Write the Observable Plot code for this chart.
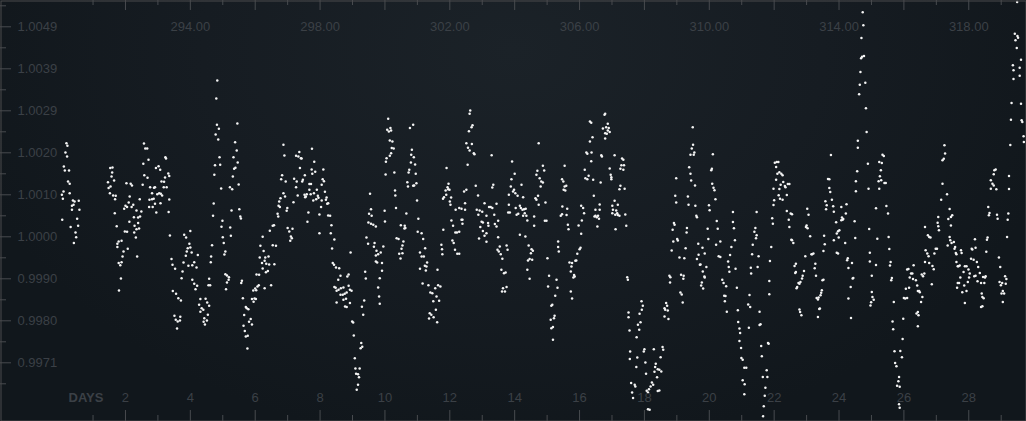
<!DOCTYPE html>
<html>
<head>
<meta charset="utf-8">
<script src="https://cdn.jsdelivr.net/npm/d3@7"></script>
<script src="https://cdn.jsdelivr.net/npm/@observablehq/plot@0.6"></script>
<style>
html, body { margin: 0; padding: 0; width: 1026px; height: 421px; overflow: hidden; background: #13191e; }
#chart {
  width: 1026px; height: 421px;
  background: radial-gradient(ellipse 55% 95% at 50% 12%, #1b2228 0%, #161c22 55%, #11171c 100%);
}
#chart svg { display: block; }
</style>
</head>
<body>
<div id="chart"></div>
<script>
// Observations: [day, relative flux deviation in ppm]
const obsDays0to5 = [
[0.18,2178],[0.21,2116],[0.15,1960],[0.20,1868],[0.10,1635],[0.13,1542],[0.26,1542],[0.23,1287],[0.28,1232],[0.09,1054],[0.04,977],[0.07,884],[0.28,1015],[0.38,845],[0.43,822],[0.56,837],[0.35,721],[0.40,744],[0.58,628],[0.35,628],[0.51,419],[0.05,395],[0.31,225],[0.54,256],[0.46,101],[0.48,-8],[0.41,-147],
[1.53,1597],[1.60,1612],[1.59,1496],[1.57,1403],[1.65,1310],[1.46,1271],[1.54,1170],[1.48,1132],[1.52,1015],[1.62,961],[1.70,953],[1.68,876],[1.67,550],[1.73,248],[1.79,-109],[1.75,-163],[1.75,-240],[1.88,-93],[1.94,-341],[1.91,-457],[1.79,-612],[1.84,-659],[1.88,-589],[1.86,-969],[1.80,-1248],
[2.03,1248],[2.16,1232],[2.20,1194],[2.13,938],[2.24,744],[2.10,798],[2.00,721],[1.96,651],[2.19,690],[2.05,690],[2.34,612],[2.49,589],[2.39,450],[2.26,457],[2.45,473],[2.12,349],[2.39,318],[2.28,256],[2.34,178],[2.27,101],[2.42,194],[1.98,124],[2.05,116],[2.32,-16],[2.07,-279],[2.36,-457],
[2.57,2170],[2.61,2054],[2.67,2054],[2.55,1697],[2.71,1790],[2.58,1434],[2.68,1372],[2.53,1209],[2.44,876],[2.76,1155],[2.88,1139],[2.82,1015],[2.91,1155],[2.98,992],[3.04,1015],[3.09,1000],[2.94,1597],[3.02,1643],[3.07,1558],[3.23,1852],[3.25,1821],[3.11,1287],[3.19,1279],[3.32,1473],[3.35,1411],[3.27,1155],[3.22,1380],[3.18,1155],[2.82,876],[2.87,884],[2.74,860],[2.91,767],[2.73,690],[2.84,690],[2.95,566],[3.08,783],[3.35,868],[3.13,961],[3.33,574],[3.37,31],
[3.42,-519],[3.45,-651],[3.53,-744],[3.46,-1263],[3.56,-1325],[3.63,-1426],[3.71,-1480],[3.51,-1837],[3.55,-1930],[3.61,-1968],[3.69,-1860],[3.68,-1945],[3.59,-2131],
[3.81,47],[3.87,-16],[4.00,132],[3.97,-163],[3.92,-264],[3.89,-341],[4.00,-248],[3.86,-442],[4.04,-364],[3.79,-597],[3.94,-674],[4.06,-659],[4.12,-589],[4.19,-713],[4.23,-426],[3.73,-961],[3.76,-806],[4.06,-1000],[4.12,-1093],[4.21,-1139],[4.16,-1217],[4.31,-1449],[4.47,-1442],[4.52,-1527],[4.27,-1581],[4.35,-1659],[4.40,-1697],[4.58,-1604],[4.31,-1744],[4.54,-1814],[4.43,-1891],[4.51,-1945],[4.41,-1976],[4.45,-2038],[4.58,-977],[4.56,-1124],[4.61,-1124],[4.63,-589],[4.64,-457],[4.67,-194],
[4.83,3634],[4.80,3215],
[4.82,2604],[4.88,2511],[4.78,2379],[4.86,2263],[4.90,1852],[4.76,1666],[4.92,1674],[4.74,1442],[4.95,1124],[4.72,775],[4.70,488],[4.99,372],[4.96,233],[5.00,-8]
];
const obsDays5to10 = [
[5.45,2635],[5.38,2201],[5.43,2007],[5.33,1852],[5.46,1728],[5.39,1604],[5.35,1581],[5.31,1403],[5.49,1217],[5.22,1155],[5.29,1108],[5.23,217],[5.25,23],[5.03,-147],[5.08,-341],[5.05,-411],[5.27,612],[5.51,643],[5.54,473],[5.56,426],[5.08,-868],[5.13,-899],[5.19,-938],[5.18,-1000],[5.13,-1062],[5.10,-1217],
[5.59,-1023],[5.57,-1077],[5.62,-1426],[5.74,-1659],[5.79,-1682],[5.71,-1635],[5.86,-1914],[5.81,-1976],[5.90,-2038],[5.66,-1821],[5.64,-2069],[5.68,-2193],[5.77,-2302],[5.71,-2317],[5.76,-2596],[5.94,-1248],[6.00,-1201],[6.07,-1155],[6.11,-1124],[6.03,-1240],[5.90,-1449],[5.98,-1434],[5.95,-1511],[6.02,-1449],[6.04,-876],[6.12,-884],[6.23,0],[6.16,-209],[6.26,-333],[6.14,-481],[6.31,-481],[6.41,-457],[6.21,-612],[6.29,-558],[6.34,-628],[6.43,-643],[6.23,-736],[6.39,-798],[6.33,-822],[6.29,-1194],[6.49,-1124],[6.45,140],[6.54,256],[6.58,271],[6.54,-194],[6.59,-636],[6.64,-209],
[6.87,2139],[6.90,1891],[6.83,1434],[6.80,1341],[6.94,1287],[6.87,1015],[6.78,899],[6.92,938],[6.74,822],[6.72,721],[6.76,690],[6.69,535],[6.71,473],[6.99,667],[6.97,605],[7.00,202],[7.15,186],[7.05,124],[7.10,8],[7.13,-31],[7.08,-93],
[7.26,1883],[7.33,1868],[7.36,1969],[7.41,1829],[7.38,1597],[7.43,1821],[7.20,1349],[7.28,1287],[7.26,1155],[7.45,1287],[7.53,1434],[7.47,1325],[7.67,1225],[7.72,1225],[7.76,1465],[7.74,1566],[7.82,1744],[7.85,1511],[7.75,2046],[7.18,806],[7.31,961],[7.52,977],[7.56,938],[7.59,992],[7.54,922],[7.67,1093],[7.71,992],[7.81,1015],[7.90,1093],[7.93,953],[7.79,845],[7.88,876],[7.95,907],[8.05,1209],[8.08,1341],[8.12,1294],[8.10,1566],[8.15,1046],[8.20,915],[8.18,860],[8.25,783],[8.22,767],[8.05,845],[8.03,690],[7.98,519],[7.64,566],[7.61,349],[7.98,85],[8.25,496],[8.31,488],
[8.35,271],[8.33,85],[8.44,-62],[8.37,-271],[8.39,-612],[8.43,-651],[8.49,-713],[8.59,-729],[8.63,-907],[8.56,-1000],[8.88,-876],[8.84,-922],[8.44,-1170],[8.48,-1186],[8.57,-1232],[8.51,-1256],[8.64,-1194],[8.72,-1178],[8.88,-1139],[8.97,-1256],[8.92,-1232],[8.63,-1349],[8.70,-1349],[8.76,-1325],[8.82,-1294],[8.80,-1442],[8.72,-1465],[8.77,-1620],[8.82,-1635],[8.51,-1527],[8.92,-1542],[8.94,-364],
[8.99,-1969],[9.02,-1992],[9.04,-2294],[9.27,-2472],[9.30,-2558],[9.25,-2589],[9.07,-2821],[9.09,-3061],[9.22,-3061],[9.11,-3185],[9.17,-3193],[9.20,-3263],[9.17,-3441],[9.13,-3557],[9.36,-1480],[9.29,-1628],[9.33,-1814],
[9.39,-814],[9.41,-969],[9.43,-16],[9.48,-163],[9.54,1000],[9.57,643],[9.51,535],[9.59,488],[9.49,333],[9.57,302],[9.64,279],[9.72,240],[9.68,-147],[9.66,-233],[9.74,-326],[9.72,-434],[9.79,-403],[9.87,-364],[9.95,-225],[9.91,-612],[9.76,-597],[9.72,-574],[9.91,-791],[9.84,-961],[9.79,-1178],[9.82,-1387],[9.84,-1558],[9.99,605],[10.00,357]
];
const obsDays10to15 = [
[10.10,2744],[10.07,2488],[10.12,2449],[10.17,2527],[10.19,2472],[10.15,2240],[10.23,2217],[10.21,2062],[10.27,2054],[10.19,1945],[10.15,1883],[10.05,1829],[10.03,1744],[10.29,1496],[10.02,1449],[10.31,1077],[10.32,961],[10.34,667],
[10.36,-31],[10.42,-54],[10.49,271],[10.61,256],[10.63,202],[10.60,194],[10.57,-109],[10.54,-202],[10.51,-279],[10.44,-395],[10.54,-380],[10.48,-504],[10.66,543],
[10.87,2604],[10.77,2527],[10.83,2023],[10.81,1907],[10.89,1852],[10.80,1728],[10.93,1682],[10.75,1558],[10.73,1496],[10.95,1465],[10.69,1271],[10.97,1248],[10.71,1170],[10.87,1186],[10.90,1194],[10.99,845],[11.03,419],
[11.01,116],[11.13,85],[11.18,-54],[11.24,-264],[11.08,-364],[11.13,-457],[11.20,-457],[11.30,-597],[11.23,-674],[11.28,-690],[11.08,-744],[11.26,-783],[11.16,-1085],[11.34,-1124],[11.64,-1124],[11.71,-1155],[11.40,-1294],[11.55,-1194],[11.46,-1310],[11.59,-1387],[11.49,-1496],[11.67,-1488],[11.57,-1697],[11.38,-1775],[11.43,-1814],[11.50,-1868],[11.36,-1899],[11.61,-1984],
[11.62,-767],[11.74,-186],[11.76,-287],[11.77,-403],[11.80,163],
[11.90,1597],[11.96,1232],[11.93,1155],[11.87,1077],[11.99,1093],[11.89,977],[11.82,922],[11.79,884],[12.04,915],[12.00,822],[12.02,744],[11.95,1108],
[12.05,380],[12.10,256],[12.08,-85],[12.12,-147],[12.17,101],[12.22,101],[12.29,116],[12.16,-302],[12.23,-395],[12.29,-395],[12.36,395],[12.39,395],[12.39,302],[12.18,628],[12.29,667],[12.36,651],[12.47,628],[12.47,783],[12.44,1054],[12.51,1093],
[12.63,2937],[12.61,2860],[12.70,2596],[12.67,2550],[12.59,2457],[12.51,2178],[12.68,2155],[12.56,2069],[12.61,2007],[12.74,1945],[12.76,1922],[12.55,1674],
[12.80,1186],[12.87,961],[12.83,628],[12.92,612],[13.00,581],[12.88,512],[13.07,783],[13.13,488],[13.21,690],[12.98,349],[13.02,333],[13.18,318],[12.94,225],[13.02,132],[13.13,85],[13.07,23],[12.90,-39],[13.13,-116],[13.19,256],
[13.29,1899],[13.34,1209],[13.31,1147],[13.44,767],[13.26,690],[13.31,667],[13.37,512],[13.39,295],[13.44,240],[13.49,372],[13.49,-8],[13.54,-225],[13.47,-302],[13.51,-341],[13.57,-403],[13.75,-202],[13.78,-302],[13.62,-512],[13.59,-767],[13.72,-829],[13.67,-845],[13.64,-1194],[13.70,-1271],[13.75,-1170],[13.61,-1271],
[13.92,1752],[14.00,1465],[13.90,1341],[13.88,1170],[13.98,1093],[13.95,1054],[14.02,1015],[13.82,977],[14.09,953],[14.26,922],[14.21,1209],[13.82,744],[13.80,566],[13.85,566],[14.03,667],[14.11,535],[14.06,512],[14.16,721],[14.19,667],[14.24,628],[14.29,643],[14.34,651],[14.31,550],[14.26,488],[14.36,488],[14.16,47],[14.33,8],[14.39,380],[14.43,-202],[14.52,-287],[14.56,-326],[14.50,-380],[14.46,-519],[14.54,-535],[14.41,-550],[14.39,-767],[14.46,-977],
[14.74,2178],[14.70,1535],[14.67,1442],[14.77,1364],[14.87,1651],[14.91,1542],[14.82,1287],[14.87,1263],[14.80,1170],[14.72,953],[14.67,860],[14.64,899],[14.74,744],[14.95,798],[14.60,473],[14.60,256],[14.93,372],[14.98,372]
];
const obsDays15to20 = [
[15.01,-496],[15.06,-907],[15.03,-1155],[15.29,-1000],[15.32,-1186],[15.25,-1372],[15.13,-1604],[15.16,-1581],[15.23,-1837],[15.21,-1891],[15.11,-1930],[15.18,-2100],[15.13,-2124],[15.18,-2395],
[15.54,1651],[15.46,1341],[15.50,1287],[15.54,1170],[15.59,1186],[15.51,1093],[15.56,1077],[15.47,705],[15.62,651],[15.46,527],[15.42,488],[15.60,504],[15.64,279],[15.66,178],[15.34,-109],[15.34,-240],[15.36,-341],[15.69,-597],[15.77,-612],[15.87,-558],[15.75,-690],[15.73,-806],[15.83,-891],[15.85,-922],[15.81,-946],[15.73,-1271],[15.77,-1434],
[16.05,721],[16.11,667],[16.14,550],[16.07,380],[15.97,264],[16.05,70],[16.03,-256],[16.00,-287],[15.93,-395],[15.90,-550],
[16.32,2682],[16.36,2650],[16.40,2317],[16.32,2217],[16.21,1961],[16.24,1930],[16.37,1961],[16.36,1759],[16.16,1558],[16.18,1364],[16.28,1418],[16.24,1341],[16.42,1325],[16.67,1899],[16.69,1868],[16.65,1263],[16.44,953],[16.49,628],[16.62,752],[16.62,628],[16.49,488],[16.53,457],[16.57,488],[16.60,419],[16.46,473],[16.55,240],
[16.79,2860],[16.77,2837],[16.87,2627],[16.82,2550],[16.90,2527],[16.72,2519],[16.93,2434],[16.79,2410],[16.84,2395],[16.87,2472],[16.79,2286],
[17.08,1899],[16.93,1589],[16.96,1442],[16.98,1387],[16.98,1341],[17.31,1821],[17.35,1790],[17.29,1666],[17.37,1666],[17.26,1581],[17.35,1558],[17.26,1186],[17.23,1108],[17.39,1116],[17.08,837],[17.01,721],[17.18,744],[17.03,628],[17.01,550],[17.13,612],[17.16,550],[17.23,488],[17.10,512],[17.18,504],[17.41,519],[17.11,178],[17.44,256],
[17.47,-938],[17.49,-1000],
[17.91,-1496],[17.95,-1604],[17.92,-1697],[17.85,-1790],[17.51,-1759],[17.51,-1868],[17.88,-1984],[17.80,-2046],[17.84,-2162],[17.54,-2178],[17.76,-2333],[17.56,-2666],[18.00,-2612],[17.98,-2666],[18.29,-2612],[18.56,-2565],[18.58,-2627],[18.50,-2798],[17.78,-2806],[17.55,-2844],[18.03,-2922],[18.35,-2953],[18.33,-3030],[18.41,-3077],[18.46,-3092],[18.52,-3131],[18.31,-3139],[17.75,-3030],[18.05,-3185],[18.39,-3263],[18.23,-3387],[17.59,-3402],[17.70,-3441],[17.72,-3480],[18.27,-3441],[18.19,-3480],[18.14,-3542],[18.07,-3581],[18.11,-3619],[18.41,-3588],[18.46,-3573],[17.62,-3619],[17.65,-3751],[18.16,-4022],[18.11,-4007],
[18.67,-1542],[18.70,-1604],[18.62,-1659],[18.64,-1697],[18.72,-1713],[18.62,-1852],[18.74,-1914],
[18.77,-907],[18.80,-938],[18.79,-1062],[18.91,318],[18.93,279],[18.87,163],[19.01,-54],[19.03,-85],[18.89,-109],[18.84,-318],[19.08,-481],[18.95,953],[18.98,798],[18.98,1364],[19.23,-496],[19.27,-264],[19.13,-884],[19.21,-907],[19.20,-977],[19.11,-1294],[19.15,-1341],[19.18,-1527],[19.31,202],[19.30,101],[19.36,744],[19.34,938],[19.38,1620],[19.42,1465],[19.44,1310],[19.56,1194],[19.57,721],[19.60,488],[19.62,457],[19.52,1907],[19.42,1907],[19.54,1961],[19.46,2054],[19.50,2139],[19.49,2550],
[19.66,-163],[19.79,-256],[19.67,-419],[19.62,-519],[19.73,-643],[19.80,-806],[19.85,-922],[19.77,-1062],[19.75,-1132],[19.81,-1201],[19.71,-651]
];
const obsDays20to25 = [
[20.11,1918],[20.08,1585],[20.06,1546],[20.09,1236],[20.13,1143],[20.16,1081],[20.19,872],[19.99,732],[20.01,616],[20.23,368],[20.26,190],[19.95,190],[19.97,-50],[20.34,-112],[20.21,-182],[20.29,-453],[20.34,-469],[19.86,-391],[19.91,-701],[19.86,-949],[20.40,-996],[20.44,-1073],[20.52,-1151],[20.46,-1368],[20.50,-1375],[20.48,-1499],[20.54,-1740],
[20.73,577],[20.73,345],[20.76,198],[20.79,-81],[20.68,-236],[20.64,-422],[20.58,-577],[20.60,-701],[20.62,-810],[20.81,-740],[20.85,-1182],[20.88,-1709],[20.89,-1980],[20.93,-2135],[20.95,-2236],[20.93,-2422],[20.98,-2585],[20.99,-2817],[21.03,-2856],[21.08,-3042],[21.14,-3042],[21.03,-3337],[21.09,-3430],[21.08,-3662],
[21.46,577],[21.42,205],[21.39,120],[21.46,35],[21.44,-35],[21.34,-182],[21.32,-407],[21.52,-453],[21.28,-717],[21.49,-701],[21.29,-856],[21.24,-1352],[21.20,-1577],[21.26,-1631],[21.22,-2112],[21.55,-1740],[21.58,-2034],[21.55,-2050],[21.60,-2538],[21.62,-2778],[21.65,-3259],[21.77,-3104],[21.79,-3259],[21.81,-2468],[21.83,-2484],[21.73,-3507],[21.71,-3693],[21.68,-3941],[21.66,-4174],[21.85,-1027],[21.87,-562],[21.85,-1337],[21.91,-236],[21.94,430],[21.96,306],
[21.98,1120],[21.98,740],[22.00,849],[22.02,1724],[22.08,1740],[22.13,1740],[22.06,1624],[22.10,1468],[22.06,1329],[22.16,1500],[22.22,1468],[22.26,1430],[22.28,1275],[22.33,1182],[22.35,1151],[22.20,1213],[22.16,1112],[22.14,965],[22.18,887],[22.26,864],[22.39,973],[22.42,1228],[22.47,1228],[22.39,601],[22.51,539],[22.55,523],[22.45,399],[22.47,229],[22.53,-66],[22.55,-81],[22.59,-143],
[22.67,-624],[22.63,-678],[22.67,-818],[22.65,-841],[22.75,-1073],[22.71,-1166],[22.69,-1197],[22.78,-1089],[22.81,-1050],[22.88,-903],[22.92,-794],[22.96,-453],[22.86,-972],[22.78,-1693],[22.80,-1747],[22.84,-1825],[22.98,229],[23.03,198],[23.00,260],[23.06,515],[23.02,655],[23.11,12],[23.17,-407],[23.21,-391],[23.15,-407],
[23.27,-624],[23.25,-732],[23.29,-903],[23.31,-1422],[23.37,-1414],[23.35,-1460],[23.41,-1670],[23.35,-1864],[23.39,-1678],[23.43,-1360],[23.47,-1244],[23.52,-996],[23.49,-1011],[23.45,-1298],[23.52,-329],[23.54,27],[23.56,-174],[23.58,825],[23.62,732],[23.60,639],[23.66,1345],[23.70,1337],[23.70,1136],[23.73,1043],[23.78,864],[23.75,1903],[23.82,709],[23.84,585],[23.91,337],[23.97,128],[23.93,74],[23.99,-19],[24.01,151],[23.84,-81],[23.93,-368],[23.97,-391],[24.07,694],[24.09,446],[24.13,415],[24.07,384],[24.11,399],[24.19,-143],[24.23,756],[24.21,539],
[24.27,-500],[24.25,-546],[24.29,-724],[24.40,-608],[24.29,-1437],[24.37,-1887],[24.42,-972],[24.44,-957],[24.36,-1166],[24.48,360],[24.50,-27],[24.52,1058],[24.52,1291],[24.56,1523],[24.58,2073],[24.58,2236],[24.62,3313],[24.64,3538],[24.66,3832],[24.68,4150],[24.71,4189],[24.77,4204],[24.69,4623],[24.75,4918],[24.73,5220],[24.81,3584],[24.83,2987],[24.85,2437],[24.89,1701],[24.91,1120],[24.93,182],[24.95,-368],[24.95,-577],[24.99,-1523],[24.97,-1600]
];
const obsDays25to30 = [
[25.14,-655],[25.01,-903],[25.01,-1282],[25.03,-1399],[25.07,-1461],[25.14,663],[25.18,-43],
[25.24,1120],[25.26,1407],[25.29,1546],[25.34,1910],[25.38,1879],[25.24,1740],[25.32,1717],[25.30,1314],[25.22,1291],[25.40,1252],[25.44,1252],[25.46,717],[25.51,539],[25.53,-4],[25.55,-283],[25.59,-585],[25.57,-670],[25.63,-957],[25.61,-1011],[25.69,-1515],
[25.65,-1972],[25.67,-2151],[25.71,-2662],[25.89,-2654],[25.94,-2802],[25.73,-2933],[25.77,-3011],[25.85,-3259],[25.83,-3360],[25.79,-3461],[25.87,-3484],[25.98,-1903],[25.96,-2375],[25.85,-3895],[25.87,-3972],[26.00,-1422],[26.04,-1437],[26.10,-1422],[26.06,-1205],[26.10,-763],[26.14,-748],[26.18,-949],[26.16,-1182],[26.26,-856],[26.22,-856],[26.30,-663],[26.28,-980],[26.37,-1011],[26.41,-1135],[26.43,-1259],[26.47,-1259],[26.49,-1290],[26.57,-1399],[26.53,-1515],[26.43,-1747],[26.39,-1786],[26.45,-1825],[26.43,-2081],[26.55,-879],[26.59,-918],[26.63,-856],[26.65,229],[26.74,35],[26.78,-4],[26.82,-19],[26.86,-1104],[26.67,-314],[26.72,-391],[26.76,-453],[26.78,-608],[26.65,-585],[26.88,-678],[26.92,-756],[26.98,-275],[27.02,-275],[26.94,-391],[27.04,329],[27.06,244],[27.08,151],[27.06,461],
[27.15,864],[27.19,1236],[27.19,1778],[27.23,1817],[27.27,1934],[27.25,2127],[27.33,988],[27.35,-205],[27.37,415],[27.41,647],[27.45,461],[27.49,500],[27.45,260],[27.41,-4],[27.43,-81],[27.47,-143],[27.54,-120],[27.56,-275],[27.60,-376],[27.62,-407],[27.58,-236],[27.62,-585],[27.66,-686],[27.72,-670],[27.68,-686],[27.76,-314],[27.78,-376],[27.88,-686],[27.93,-686],[27.84,-818],[27.99,-763],[27.66,-1073],[27.70,-1073],[27.74,-949],[27.64,-1182],[27.86,-1135],[27.80,-1290],[27.93,-1259],[27.88,-1538],[27.97,-1050],[28.01,-949],[28.03,-856],[28.09,-275],[28.11,-298],[28.07,-508],[28.15,-531],[28.19,-58],[28.21,-252],[28.25,-585],[28.29,-701],[28.17,-918],[28.21,-903],[28.27,-1034],[28.34,-841],[28.38,-1073],[28.40,-1321],[28.44,-933],[28.48,-1073],[28.50,-949],[28.52,-918],[28.42,-1399],[28.46,-1430],[28.38,-1631],[28.42,-1616],
[28.54,-345],[28.56,-66],[28.58,-19],[28.62,500],[28.64,554],[28.60,694],[28.68,1120],[28.73,1236],[28.68,1314],[28.79,1546],[28.77,1453],[28.83,1562],[28.77,1190],[28.85,1105],[28.87,515],[28.89,422],[28.93,-484],[28.97,-701],[28.95,-1050],[28.99,-1128],[29.03,-1073],[29.05,-1259],[29.01,-1321],[29.09,-1321],[29.05,-1515],[29.12,-918],[29.14,-1089],[29.16,-980],
[29.20,399],[29.22,539],[29.24,1112],[29.24,1414],[29.28,2135],[29.30,2724],[29.32,3111],[29.18,-4],[29.36,3987],[29.38,3871],[29.38,3670],[29.42,4724],[29.44,4569],[29.48,4390],[29.50,4669],[29.52,4631],[29.57,3933],[29.57,3747],[29.61,4119],[29.61,3096],[29.63,2709],[29.65,2670],[29.69,2337],[29.70,2205],[29.49,5460]
];

// Axis settings
const dayTicks = d3.range(1, 30);               // tick every day
const dayLabels = d3.range(2, 29, 2);           // bottom labels
const dateLabels = d3.range(4, 29, 4);          // top labels (day + offset)
const dateOffset = 290;
const fluxStep = 1 / 1024;
const fluxMajorSteps = d3.range(-3, 6);
const fluxMinorSteps = d3.range(-3.5, 6);
const xDomain = [-1.853, 29.78];
const yDomain = [0.9957055, 1.0054943];

const W = 1026, H = 421;
const obs = [...obsDays0to5, ...obsDays5to10, ...obsDays10to15, ...obsDays15to20, ...obsDays20to25, ...obsDays25to30]
  .map(([day, ppm]) => ({day, flux: 1 + ppm / 1e6}));
const yMajor = fluxMajorSteps.map(k => 1 + k * fluxStep);
const yMinor = fluxMinorSteps.map(k => 1 + k * fluxStep);
const dayMajor = dayTicks.filter(d => d % 2 === 0);
const dayMinor = dayTicks.filter(d => d % 2 === 1);

const tickCol = "#484b4f";
const textCol = "#3b4046";

const chart = Plot.plot({
  width: W,
  height: H,
  margin: 0,
  style: {background: "transparent", fontFamily: "'Liberation Sans', Arial, Helvetica, sans-serif", fontSize: "13px", overflow: "visible"},
  x: {domain: xDomain, axis: null},
  y: {domain: yDomain, axis: null},
  marks: [
    Plot.dot(obs, {x: "day", y: "flux", r: 1.25, fill: "#f4f4f4"}),
    Plot.tickX(dayMajor, {x: d => d, stroke: tickCol, insetBottom: H - 10}),
    Plot.tickX(dayMinor, {x: d => d, stroke: tickCol, insetBottom: H - 5}),
    Plot.tickX(dayMajor, {x: d => d, stroke: tickCol, insetTop: H - 11}),
    Plot.tickX(dayMinor, {x: d => d, stroke: tickCol, insetTop: H - 6}),
    Plot.tickY(yMajor, {y: d => d, stroke: tickCol, insetRight: W - 11}),
    Plot.tickY(yMinor, {y: d => d, stroke: tickCol, insetRight: W - 6}),
    Plot.text(yMajor, {y: d => d, text: d => d.toFixed(4), frameAnchor: "left", dx: 17, textAnchor: "start", fill: textCol}),
    Plot.text(dateLabels, {x: d => d, text: d => (d + dateOffset).toFixed(2), frameAnchor: "top", dy: 21, fill: textCol}),
    Plot.text(dayLabels, {x: d => d, text: d => String(d), frameAnchor: "bottom", dy: -20, fill: textCol}),
    Plot.text(["DAYS"], {text: d => d, frameAnchor: "bottom-left", dx: 68, dy: -20, textAnchor: "start", fontWeight: "bold", fill: textCol}),
    Plot.frame({stroke: "#4a4b4d", inset: 0.5})
  ]
});
document.getElementById("chart").appendChild(chart);
</script>
</body>
</html>
